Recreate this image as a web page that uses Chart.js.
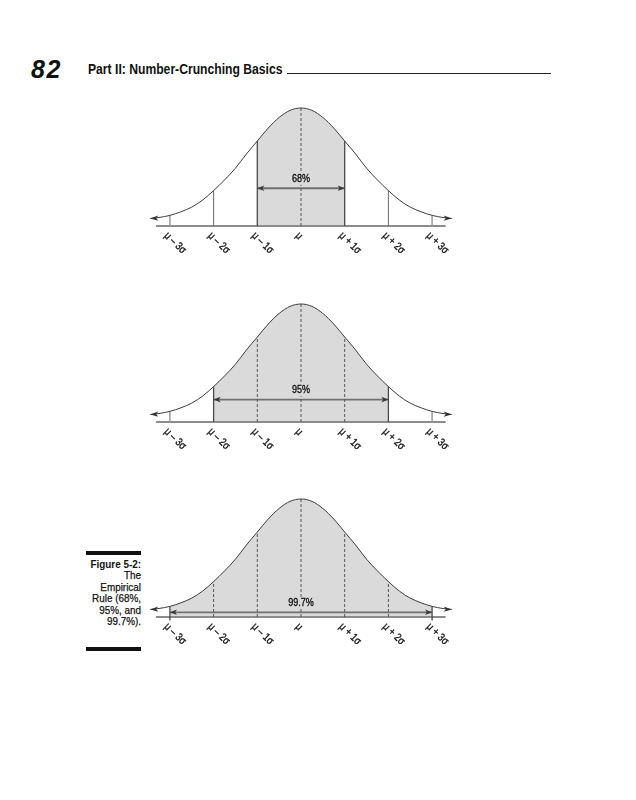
<!DOCTYPE html>
<html lang="en">
<head>
    <meta charset="UTF-8">
    <meta name="viewport" content="width=device-width, initial-scale=1.0">
    <title>The Empirical Rule</title>
    <script src="https://cdn.jsdelivr.net/npm/chart.js"></script>
    <style>
        body { margin: 0; background: #fff; width: 636px; height: 800px; position: relative; overflow: hidden;
               font-family: "Liberation Sans", Arial, sans-serif; color: #111; }
        .pageno { position: absolute; left: 31px; top: 55px; line-height: 25px; font: italic bold 25px "Liberation Sans", sans-serif; letter-spacing: 1.5px; }
        .running { position: absolute; left: 88px; top: 62px; line-height: 14px; font-weight: bold; font-size: 14px; white-space: nowrap;
                   transform: scaleX(0.868); transform-origin: left top; }
        .rule { position: absolute; left: 287px; top: 73px; width: 264px; height: 1px; background: #222; }
        .bar { position: absolute; left: 86px; width: 55px; height: 4px; background: #111; }
        .caption { position: absolute; left: 0; width: 141px; top: 559px; text-align: right; font-size: 11.5px; line-height: 11.4px;
                   transform: scaleX(0.86); transform-origin: right top; -webkit-text-stroke: 0.25px #111; }
        .caption b { font-weight: bold; -webkit-text-stroke: 0; }
        canvas { position: absolute; left: 136px; }
    </style>
</head>
<body>
    <div class="pageno">82</div>
    <div class="running">Part II: Number-Crunching Basics</div>
    <div class="rule"></div>

    <div class="bar" style="top:551px"></div>
    <div class="caption"><b>Figure 5-2:</b><br>The<br>Empirical<br>Rule (68%,<br>95%, and<br>99.7%).</div>
    <div class="bar" style="top:647px"></div>

    <canvas id="chart1" width="330" height="180" style="top:96px"></canvas>
    <canvas id="chart2" width="330" height="180" style="top:292px"></canvas>
    <canvas id="chart3" width="330" height="180" style="top:487px"></canvas>

    <script>
        // Kurve (Höhe relativ, Spitze = 100), x in Sigma-Einheiten
        const sigmaX = [-3.45, -3.25, -3, -2.75, -2.5, -2.25, -2, -1.75, -1.5, -1.25, -1, -0.75, -0.5, -0.25, 0,
                        0.25, 0.5, 0.75, 1, 1.25, 1.5, 1.75, 2, 2.25, 2.5, 2.75, 3, 3.25, 3.45];
        const curveY = [6.4, 7.2, 9, 12, 16, 22, 30, 39, 49, 61, 72, 83, 92, 98, 100,
                        98, 92, 83, 72, 61, 49, 39, 30, 22, 16, 12, 9, 7.2, 6.4];

        const tickValues = [-3, -2, -1, 0, 1, 2, 3];
        const tickLabels = ['\u03BC \u2013 3\u03C3', '\u03BC \u2013 2\u03C3', '\u03BC \u2013 1\u03C3', '\u03BC',
                            '\u03BC + 1\u03C3', '\u03BC + 2\u03C3', '\u03BC + 3\u03C3'];

        // pro Diagramm
        const shadedSigma = [1, 2, 3];
        const percentLabels = ['68%', '95%', '99.7%'];
        const arrowHeights = [32, 19, 4];
        const labelHeights = [40, 27, 12];

        const axisFrom = -3.32, axisTo = 3.31;
        const SHADE = '#dadada';
        const NARROW = 0.82; // schmale Schrift nachbilden

        function heightAt(t) {
            return curveY[sigmaX.indexOf(t)];
        }

        function arrowHead(ctx, tipX, tipY, fromX, fromY, len, half) {
            const a = Math.atan2(tipY - fromY, tipX - fromX);
            ctx.save();
            ctx.translate(tipX, tipY);
            ctx.rotate(a);
            ctx.beginPath();
            ctx.moveTo(0, 0);
            ctx.lineTo(-len, -half);
            ctx.lineTo(-len * 0.75, 0);
            ctx.lineTo(-len, half);
            ctx.closePath();
            ctx.fill();
            ctx.restore();
        }

        function boldText(ctx, text) {
            ctx.fillText(text, 0, 0);
            ctx.strokeText(text, 0, 0);
        }

        const sigmaLabels = {
            id: 'sigmaLabels',
            afterDatasetsDraw(chart, args, opts) {
                const {ctx, scales: {x, y}} = chart;
                const y0 = y.getPixelForValue(0);
                ctx.save();
                ctx.fillStyle = '#111';
                ctx.strokeStyle = '#111';
                ctx.lineWidth = 0.35;

                // Achsenbeschriftung, schräg nach rechts unten
                ctx.font = '11px "Liberation Sans", Arial, sans-serif';
                ctx.textBaseline = 'middle';
                ctx.textAlign = 'left';
                tickValues.forEach((t, i) => {
                    ctx.save();
                    ctx.translate(x.getPixelForValue(t) - 4, y0 + 8);
                    ctx.rotate(44 * Math.PI / 180);
                    ctx.scale(NARROW, 1);
                    boldText(ctx, tickLabels[i]);
                    ctx.restore();
                });

                // Pfeilspitzen an der Kurve
                ctx.fillStyle = '#333';
                const n = sigmaX.length;
                arrowHead(ctx, x.getPixelForValue(sigmaX[0]), y.getPixelForValue(curveY[0]),
                          x.getPixelForValue(sigmaX[1]), y.getPixelForValue(curveY[1]) + 0.6, 8, 2.6);
                arrowHead(ctx, x.getPixelForValue(sigmaX[n - 1]), y.getPixelForValue(curveY[n - 1]),
                          x.getPixelForValue(sigmaX[n - 2]), y.getPixelForValue(curveY[n - 2]) + 0.6, 8, 2.6);

                // Doppelpfeil und Prozentangabe
                const ay = y.getPixelForValue(opts.arrowY);
                const xl = x.getPixelForValue(-opts.k), xr = x.getPixelForValue(opts.k);
                ctx.fillStyle = '#3a3a3a';
                arrowHead(ctx, xl, ay, xl + 10, ay, 7, 2.8);
                arrowHead(ctx, xr, ay, xr - 10, ay, 7, 2.8);

                ctx.font = '11px "Liberation Sans", Arial, sans-serif';
                ctx.textAlign = 'center';
                ctx.translate(x.getPixelForValue(0), y.getPixelForValue(opts.labelY));
                ctx.scale(NARROW, 1);
                // Hintergrund, damit die gestrichelte Linie hinter der Zahl unterbrochen ist
                const w = ctx.measureText(opts.label).width;
                ctx.fillStyle = SHADE;
                ctx.fillRect(-w / 2 - 1, -6, w + 2, 12);
                ctx.fillStyle = '#111';
                boldText(ctx, opts.label);
                ctx.restore();
            }
        };

        function makeChart(id, idx) {
            const k = shadedSigma[idx];
            const datasets = [];

            // Normalverteilungskurve mit grauer Fläche zwischen -k und +k
            datasets.push({
                data: sigmaX.map((v, i) => ({x: v, y: curveY[i]})),
                borderColor: '#3c3c3c',
                borderWidth: 1,
                pointRadius: 0,
                cubicInterpolationMode: 'monotone',
                fill: 'origin',
                backgroundColor: SHADE,
                segment: {
                    backgroundColor: c => (sigmaX[c.p0DataIndex] >= -k && sigmaX[c.p1DataIndex] <= k) ? SHADE : 'rgba(0,0,0,0)'
                }
            });

            // senkrechte Linien bei jedem Sigma
            tickValues.forEach(t => {
                const a = Math.abs(t);
                let color = '#6a6a6a', width = 1, dash = [];
                if (a < k) { color = '#555'; dash = [3, 2]; }
                else if (a === k) { color = '#4a4a4a'; width = 1.3; }
                else if (a === 3) { color = '#9a9a9a'; width = 1.5; }
                datasets.push({
                    data: [{x: t, y: a === k && k === 3 ? -3 : 0}, {x: t, y: heightAt(t)}],
                    borderColor: color,
                    borderWidth: width,
                    borderDash: dash,
                    pointRadius: 0,
                    fill: false
                });
            });

            // Doppelpfeil
            datasets.push({
                data: [{x: -k, y: arrowHeights[idx]}, {x: k, y: arrowHeights[idx]}],
                borderColor: '#707070',
                borderWidth: 1.8,
                pointRadius: 0,
                fill: false
            });

            // x-Achse
            datasets.push({
                data: [{x: axisFrom, y: 0}, {x: axisTo, y: 0}],
                borderColor: '#8c8c8c',
                borderWidth: 2,
                pointRadius: 0,
                fill: false
            });

            return new Chart(document.getElementById(id), {
                type: 'line',
                data: {datasets},
                options: {
                    responsive: false,
                    animation: false,
                    events: [],
                    layout: {padding: 0},
                    plugins: {
                        legend: {display: false},
                        tooltip: {enabled: false},
                        filler: {drawTime: 'beforeDatasetsDraw'},
                        sigmaLabels: {k, label: percentLabels[idx], arrowY: arrowHeights[idx], labelY: labelHeights[idx]}
                    },
                    scales: {
                        x: {type: 'linear', min: -3.776, max: 3.776, display: false},
                        y: {min: -50 / 1.18, max: 130 / 1.18, display: false}
                    }
                },
                plugins: [sigmaLabels]
            });
        }

        makeChart('chart1', 0);
        makeChart('chart2', 1);
        makeChart('chart3', 2);
    </script>
</body>
</html>
